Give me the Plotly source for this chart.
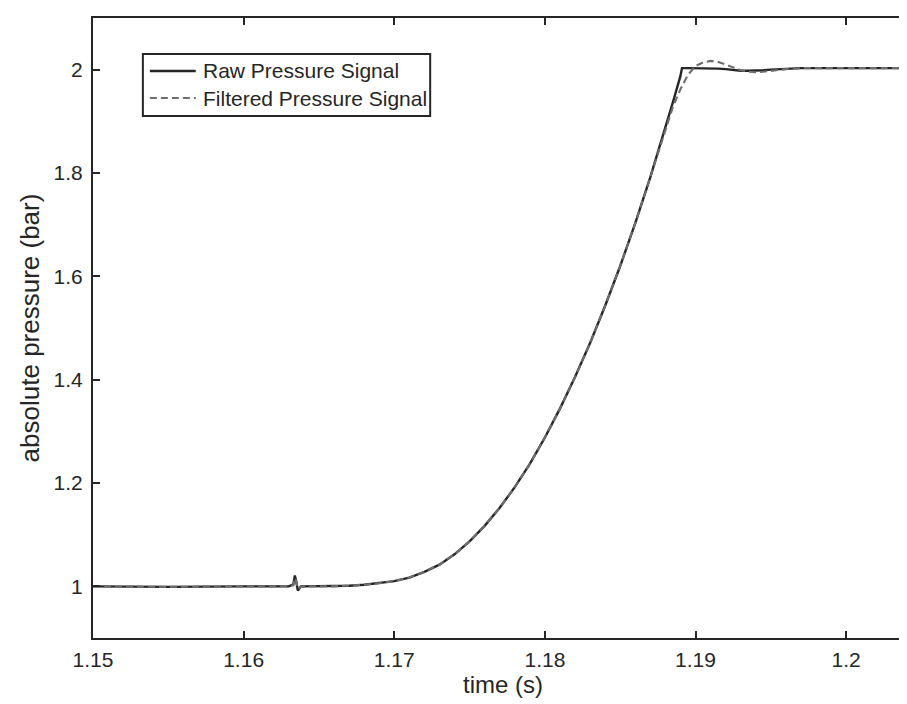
import plotly.graph_objects as go

time_s = [1.150, 1.155, 1.160, 1.1630, 1.1633, 1.1634, 1.1635, 1.1636, 1.1638, 1.1645,
          1.166, 1.167, 1.168, 1.169, 1.170, 1.171, 1.172, 1.173, 1.174, 1.175,
          1.176, 1.177, 1.178, 1.179, 1.180, 1.181, 1.182, 1.183, 1.184, 1.185,
          1.186, 1.187, 1.188, 1.1885, 1.189, 1.1891, 1.1895, 1.190, 1.1905, 1.191,
          1.1915, 1.192, 1.1925, 1.193, 1.1935, 1.194, 1.1945, 1.195, 1.196, 1.197,
          1.198, 1.200, 1.2045]

raw_pressure = [1.000, 0.999, 1.000, 1.000, 1.004, 1.021, 1.008, 0.992, 1.000, 1.000,
                1.000, 1.001, 1.003, 1.006, 1.010, 1.017, 1.028, 1.042, 1.062, 1.087,
                1.117, 1.152, 1.192, 1.237, 1.288, 1.344, 1.405, 1.471, 1.543, 1.620,
                1.703, 1.792, 1.887, 1.937, 1.988, 2.003, 2.003, 2.003, 2.003, 2.002,
                2.002, 2.001, 1.999, 1.998, 1.998, 1.998, 1.999, 2.000, 2.002, 2.003,
                2.003, 2.003, 2.003]

filtered_pressure = [1.000, 0.999, 1.000, 1.000, 1.002, 1.016, 1.010, 0.995, 0.999, 1.000,
                     1.000, 1.001, 1.003, 1.006, 1.010, 1.017, 1.028, 1.042, 1.062, 1.087,
                     1.117, 1.152, 1.192, 1.237, 1.288, 1.344, 1.405, 1.471, 1.543, 1.620,
                     1.703, 1.792, 1.884, 1.928, 1.962, 1.968, 1.990, 2.007, 2.014, 2.017,
                     2.015, 2.010, 2.004, 1.999, 1.996, 1.995, 1.996, 1.998, 2.001, 2.003,
                     2.003, 2.003, 2.003]

series_names = ["Raw Pressure Signal", "Filtered Pressure Signal"]

x_ticks = [1.15, 1.16, 1.17, 1.18, 1.19, 1.2]
x_tick_labels = ["1.15", "1.16", "1.17", "1.18", "1.19", "1.2"]
y_ticks = [1.0, 1.2, 1.4, 1.6, 1.8, 2.0]
y_tick_labels = ["1", "1.2", "1.4", "1.6", "1.8", "2"]

FONT = "Liberation Sans, Arial, Helvetica, sans-serif"
TXT = "#262626"
RAW_STYLE = dict(color="#262626", width=2.4)
FILT_STYLE = dict(color="#6e6e6e", width=2.1, dash="7px,4px")

W, H = 907, 704
ML, MR, MT, MB = 85, 0, 10, 74
PW, PH = W - ML - MR, H - MT - MB


def px(xp):
    return (xp - ML) / PW


def py(yp):
    return (H - MB - yp) / PH


fig = go.Figure()
fig.add_trace(go.Scatter(x=time_s, y=raw_pressure, mode="lines", name=series_names[0],
                         line=RAW_STYLE, showlegend=False))
fig.add_trace(go.Scatter(x=time_s, y=filtered_pressure, mode="lines", name=series_names[1],
                         line=FILT_STYLE, showlegend=False))

# legend box (drawn as in the original MATLAB figure)
shapes = [
    dict(type="rect", xref="paper", yref="paper", x0=px(135), x1=px(423), y0=py(108), y1=py(46),
         line=dict(color="#262626", width=2), fillcolor="white", layer="above"),
    dict(type="line", xref="paper", yref="paper", x0=px(142), x1=px(188), y0=py(63), y1=py(63),
         line=RAW_STYLE, layer="above"),
    dict(type="line", xref="paper", yref="paper", x0=px(142), x1=px(188), y0=py(90), y1=py(90),
         line=FILT_STYLE, layer="above"),
]
annotations = [
    dict(text=series_names[0], xref="paper", yref="paper", x=px(193), y=py(63),
         xanchor="left", yanchor="middle", showarrow=False, font=dict(size=21, color=TXT)),
    dict(text=series_names[1], xref="paper", yref="paper", x=px(193), y=py(90),
         xanchor="left", yanchor="middle", showarrow=False, font=dict(size=21, color=TXT)),
]

fig.update_layout(
    width=W, height=H,
    margin=dict(l=ML, r=MR, t=MT, b=MB),
    paper_bgcolor="white", plot_bgcolor="white",
    font=dict(family=FONT, size=21, color=TXT),
    showlegend=False,
    shapes=shapes, annotations=annotations,
)
fig.update_xaxes(range=[1.15, 1.15 + PW / 15100], tickvals=x_ticks, ticktext=x_tick_labels,
                 showgrid=False, zeroline=False, showline=True, linecolor="#262626", linewidth=2.2,
                 mirror="allticks", ticks="inside", ticklen=7, tickwidth=2, tickcolor="#262626",
                 tickfont=dict(size=21, color=TXT),
                 title=dict(text="time (s)", font=dict(size=24, color=TXT), standoff=2),
                 ticklabelstandoff=2)
fig.update_yaxes(range=[0.9, 2.1], tickvals=y_ticks, ticktext=y_tick_labels,
                 showgrid=False, zeroline=False, showline=True, linecolor="#262626", linewidth=2.2,
                 mirror="allticks", ticks="inside", ticklen=7, tickwidth=2, tickcolor="#262626",
                 tickfont=dict(size=21, color=TXT),
                 title=dict(text="absolute pressure (bar)", font=dict(size=26, color=TXT), standoff=6),
                 ticklabelstandoff=4)

fig.write_html("out.html")
